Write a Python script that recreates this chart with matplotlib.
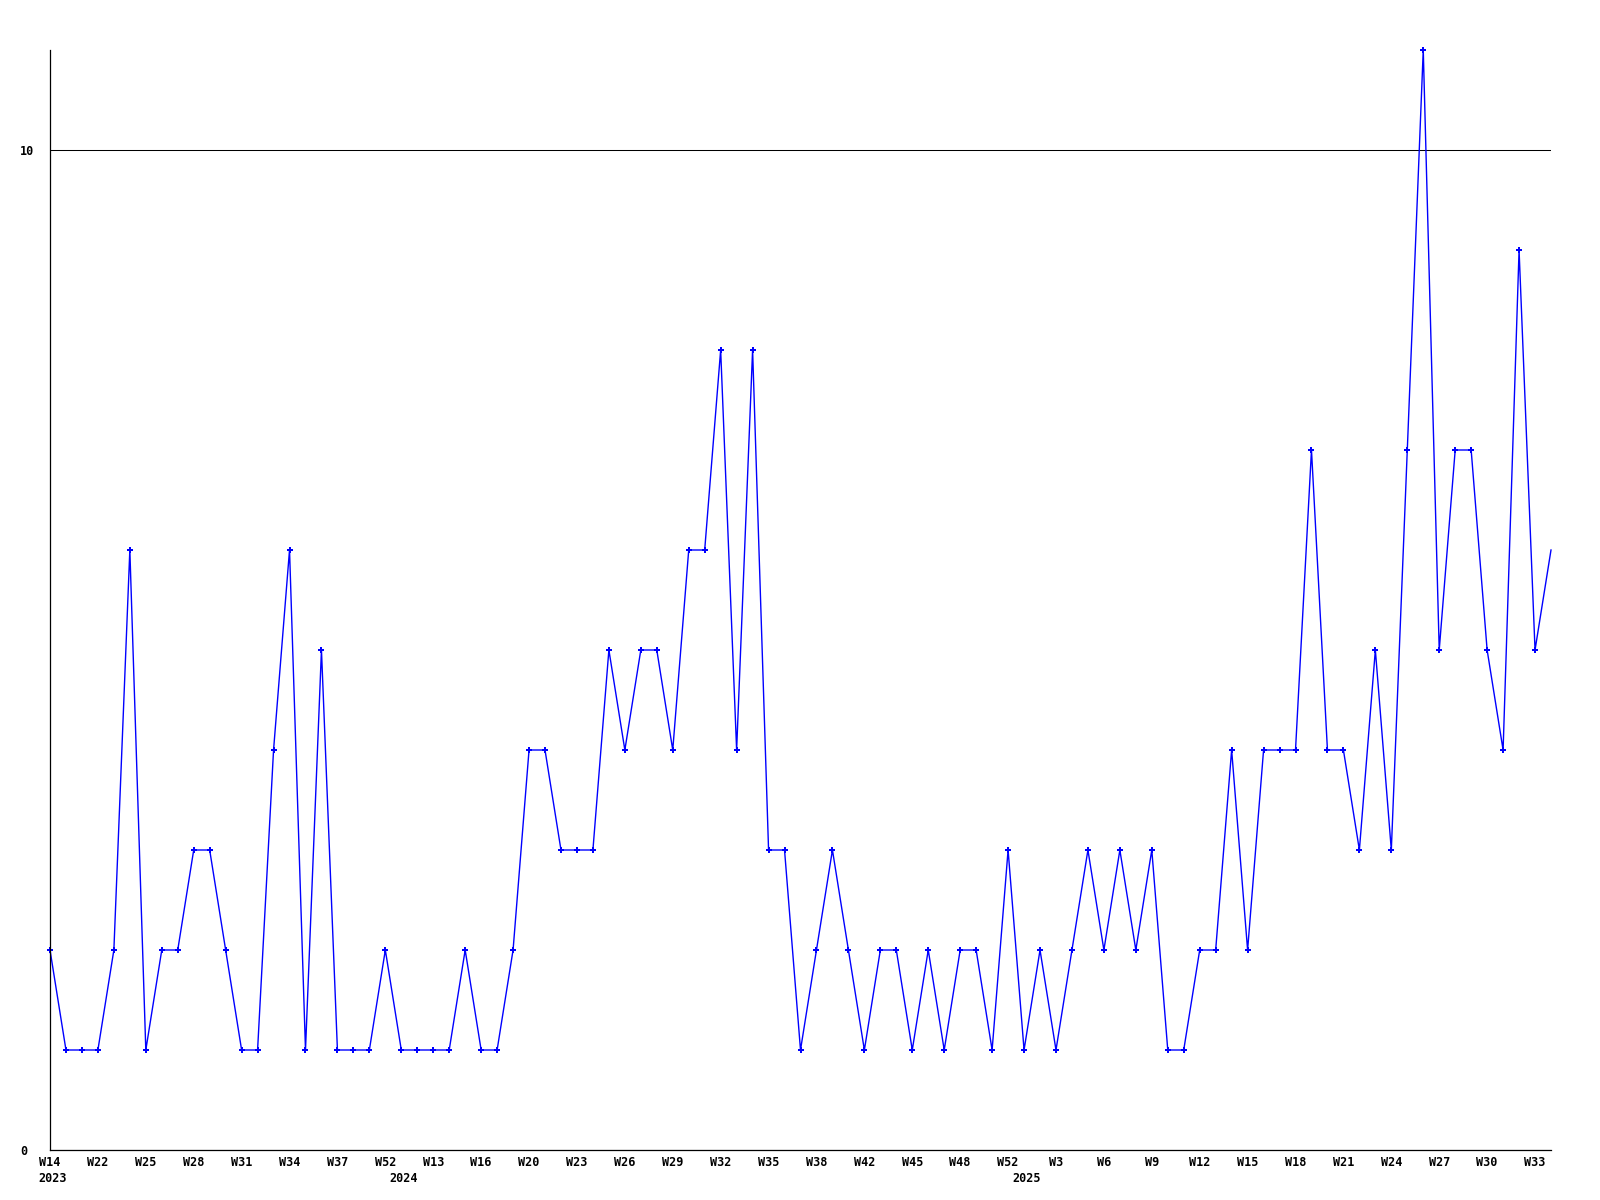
import matplotlib
matplotlib.use("Agg")
import matplotlib.pyplot as plt

# weekly counts, one point per data week
values = [2, 1, 1, 1, 2, 6, 1, 2, 2, 3, 3, 2, 1, 1, 4, 6, 1, 5, 1, 1, 1, 2, 1, 1, 1, 1, 2, 1, 1, 2, 4, 4,
          3, 3, 3, 5, 4, 5, 5, 4, 6, 6, 8, 4, 8, 3, 3, 1, 2, 3, 2, 1, 2, 2, 1, 2, 1, 2, 2, 1, 3, 1, 2, 1,
          2, 3, 2, 3, 2, 3, 1, 1, 2, 2, 4, 2, 4, 4, 4, 7, 4, 4, 3, 5, 3, 7, 11, 5, 7, 7, 5, 4, 9, 5, 6]
week_labels = ["W14", "W22", "W25", "W28", "W31", "W34", "W37", "W52", "W13", "W16", "W20",
               "W23", "W26", "W29", "W32", "W35", "W38", "W42", "W45", "W48", "W52", "W3",
               "W6", "W9", "W12", "W15", "W18", "W21", "W24", "W27", "W30", "W33"]
year_labels = ["2023", "2024", "2025"]
year_pos = [0, 22, 61]
y_ticks = [0, 10]

x = list(range(len(values)))

plt.rcParams['font.family'] = ['DejaVu Sans Mono']
plt.rcParams['font.weight'] = 'bold'
plt.rcParams['font.size'] = 8.5

fig = plt.figure(figsize=(16, 12), dpi=100)
ax = fig.add_axes([50 / 1600, 50 / 1200, 1501 / 1600, 1100 / 1200])

ax.plot(x, values, color='#0000ff', lw=1.0, marker='P', markersize=4.5,
        markeredgewidth=0, markevery=list(range(len(values) - 1)), clip_on=False)

ax.set_xlim(0, len(values) - 1)
ax.set_ylim(0, 11)

ax.set_xticks(x[::3])
ax.set_xticklabels(week_labels, fontweight='bold')
ax.set_yticks(y_ticks)
ax.set_yticklabels([str(t) for t in y_ticks], fontweight='bold', ha='left')
ax.tick_params(axis='x', length=0, pad=4.5)
ax.tick_params(axis='y', length=0, pad=21.6)

ax.grid(axis='y', color='black', linewidth=0.75)
ax.set_axisbelow(True)

for s in ['top', 'right']:
    ax.spines[s].set_visible(False)
for s in ['left', 'bottom']:
    ax.spines[s].set_linewidth(0.9)
    ax.spines[s].set_color('black')

for lab, pos in zip(year_labels, year_pos):
    ax.annotate(lab, xy=(pos, 0), xycoords=('data', 'axes fraction'),
                xytext=(2, -15.5), textcoords='offset points',
                ha='center', va='top', fontweight='bold')

fig.savefig('out.png', dpi=100)
